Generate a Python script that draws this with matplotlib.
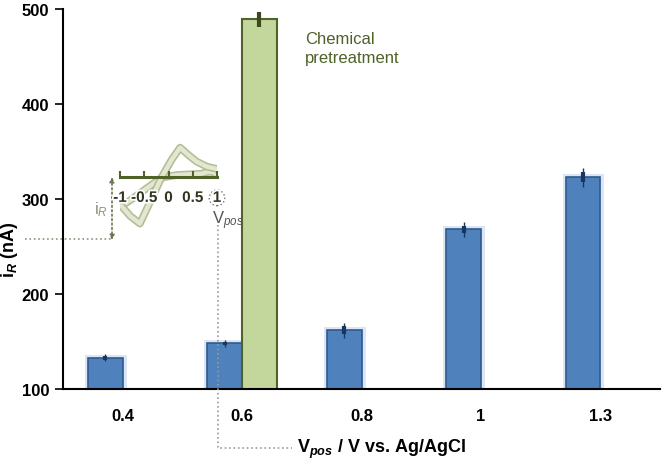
import matplotlib
matplotlib.use('Agg')
import matplotlib.pyplot as plt
import matplotlib.patheffects as pe
from matplotlib.lines import Line2D
import numpy as np

plt.rcParams['font.family'] = ['Liberation Sans', 'DejaVu Sans']
plt.rcParams['mathtext.fontset'] = 'custom'
plt.rcParams['mathtext.rm'] = 'Liberation Sans'
plt.rcParams['mathtext.it'] = 'Liberation Sans:italic'
plt.rcParams['mathtext.bf'] = 'Liberation Sans:bold'
plt.rcParams['mathtext.bfit'] = 'Liberation Sans:bold:italic'

# datos
categorias = ['0.4', '0.6', '0.8', '1', '1.3']
i_sin = [133, 148, 162, 268, 323]        # nA, sin pretratamiento
err_sin = [2, 2, 4, 4, 5]
i_quim = [np.nan, 489, np.nan, np.nan, np.nan]   # pretratamiento químico
err_quim = [np.nan, 8, np.nan, np.nan, np.nan]

# voltamograma del recuadro
E_ida = [-0.97, -0.73, -0.45, -0.14, 0.17, 0.44, 0.68, 0.82, 0.92, 1.0]
I_ida = [-2.9, -2.13, -1.13, -0.07, 0.2, 0.27, 0.33, 0.53, 0.5, 0.2]
E_vuelta = [-0.97, -0.79, -0.59, -0.38, -0.14, 0.07, 0.24, 0.41, 0.58, 0.79, 1.0]
I_vuelta = [-2.9, -3.9, -4.66, -2.5, 0.0, 1.77, 2.94, 2.2, 1.54, 1.04, 0.8]
E_ticks = [-1, -0.5, 0, 0.5, 1]

azul = '#4F81BD'
azul_borde = '#2F5A8F'
verde = '#C3D69B'
verde_borde = '#4F6228'
oliva = '#4F6228'

W, H = 664, 464
fig = plt.figure(figsize=(W / 100, H / 100), dpi=100)
ax = fig.add_axes([63 / W, 1 - 390 / H, 597 / W, 380 / H])

x = np.arange(len(categorias))
ancho = 0.29
b1 = ax.bar(x - ancho / 2, i_sin, ancho, color=azul, edgecolor=azul_borde,
            linewidth=1.2, zorder=2)
for r in b1:
    r.set_path_effects([pe.Stroke(linewidth=5, foreground='#B8CCE8', alpha=0.5), pe.Normal()])
b2 = ax.bar(x + ancho / 2, i_quim, ancho, color=verde, edgecolor=verde_borde,
            linewidth=1.5, zorder=2)
ax.errorbar(x - ancho / 2, i_sin, yerr=err_sin, fmt='none', ecolor='#17375E',
            elinewidth=3, capsize=0, zorder=3)
ax.errorbar(x - ancho / 2, i_sin, yerr=np.array(err_sin) * 2, fmt='none', ecolor='#17375E',
            elinewidth=1, capsize=0, zorder=3)
ax.errorbar(x + ancho / 2, i_quim, yerr=err_quim, fmt='none', ecolor='#3B4A1E',
            elinewidth=3, capsize=0, zorder=3)

ax.set_xlim(-0.5, len(categorias) - 0.5)
ax.set_ylim(100, 500)
ax.set_yticks([100, 200, 300, 400, 500])
ax.set_xticks(x)
ax.set_xticklabels(categorias)
ax.tick_params(axis='y', direction='out', length=6, width=1.2, labelsize=12, pad=4)
ax.tick_params(axis='x', length=0, labelsize=12, pad=14)
for lab in ax.get_xticklabels() + ax.get_yticklabels():
    lab.set_fontweight('bold')
for s in ['top', 'right']:
    ax.spines[s].set_visible(False)
ax.spines['left'].set_linewidth(1.5)
ax.spines['bottom'].set_linewidth(1.5)

fig.text(305 / W, 1 - 49 / H, 'Chemical\npretreatment', color=oliva, fontsize=12,
         ha='left', va='center', linespacing=1.35)

fig.text(10 / W, 1 - 250 / H, r'i$_{\mathbfit{R}}$ (nA)', rotation=90, fontsize=13,
         fontweight='bold', ha='center', va='center')
fig.text(297 / W, 1 - 449 / H, r'V$_{\mathbfit{pos}}$ / V vs. Ag/AgCl', fontsize=13,
         fontweight='bold', ha='left', va='center')

# recuadro con el voltamograma
axi = fig.add_axes([120 / W, 1 - 240 / H, 97 / W, 100 / H])
axi.patch.set_alpha(0)
efecto = [pe.Stroke(linewidth=5.5, foreground='#B3BC96'), pe.Normal()]
axi.plot(E_ida, I_ida, color='#E2E7D0', lw=3.2, path_effects=efecto,
         solid_capstyle='round', solid_joinstyle='round', zorder=1)
axi.plot(E_vuelta, I_vuelta, color='#E2E7D0', lw=3.2, path_effects=efecto,
         solid_capstyle='round', solid_joinstyle='round', zorder=1)
axi.set_xlim(-1, 1)
axi.set_ylim(-6.2, 3.8)
for s in ['top', 'right', 'left']:
    axi.spines[s].set_visible(False)
axi.spines['bottom'].set_position(('data', 0))
axi.spines['bottom'].set_color(oliva)
axi.spines['bottom'].set_linewidth(2.2)
axi.spines['bottom'].set_zorder(3)
axi.set_yticks([])
axi.set_xticks(E_ticks)
axi.set_xticklabels(['-1', '-0.5', '0', '0.5', '1'])
axi.tick_params(axis='x', direction='in', length=4, width=1.5, color=oliva,
                labelsize=11, pad=10, labelcolor='#2E3520')
for lab in axi.get_xticklabels():
    lab.set_fontweight('bold')
    lab.set_path_effects([pe.withStroke(linewidth=2.5, foreground='white')])
axi.get_xticklabels()[-1].set_bbox(dict(boxstyle='circle,pad=0.05', fc='none',
                                        ec='#777777', ls=':', lw=1))
axi.set_zorder(5)

def px(xp, yp):
    return (xp / W, 1 - yp / H)

gris = '#8C9478'
fig.text(*px(108, 210), r'i$_{\mathit{R}}$', color=gris, fontsize=12, ha='right', va='center')
fig.add_artist(Line2D([25 / W, 112 / W], [1 - 240 / H, 1 - 240 / H], transform=fig.transFigure,
                      color=gris, ls=':', lw=1.2))
ax.annotate('', xy=px(112, 178), xytext=px(112, 241), xycoords='figure fraction',
            textcoords='figure fraction',
            arrowprops=dict(arrowstyle='<|-|>', color='#6B7350', ls=':', lw=1.2,
                            mutation_scale=7, shrinkA=0, shrinkB=0))
fig.text(*px(212, 209), r'V$_{\mathit{pos}}$', color='#555555', fontsize=12,
         ha='left', va='top')
fig.add_artist(Line2D([218 / W, 218 / W, 292 / W], [1 - 226 / H, 1 - 449 / H, 1 - 449 / H],
                      transform=fig.transFigure, color='#999999', ls=':', lw=1.2))

fig.savefig('out.png', dpi=100)
